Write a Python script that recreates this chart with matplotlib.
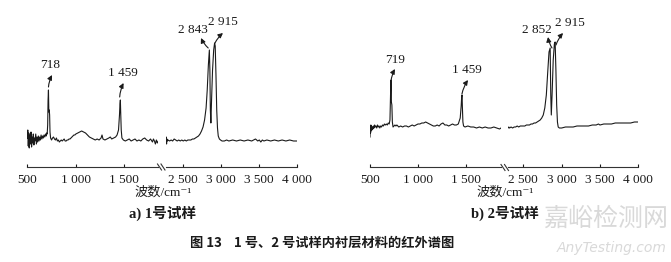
import matplotlib
matplotlib.use("Agg")
import matplotlib.pyplot as plt
from matplotlib.lines import Line2D

plt.rcParams['font.family'] = ['Liberation Serif', 'Noto Sans CJK SC', 'DejaVu Sans']

# sample 1, 500-1850 cm-1
a_left_wn = [500, 505, 510, 515, 520, 526, 532, 538, 544, 550, 556, 562, 568, 574, 580, 587, 594, 600,
             607, 614, 621, 628, 635, 642, 650, 658, 665, 672, 680, 688, 695, 700, 705, 710, 714, 718,
             722, 726, 730, 734, 740, 750, 760, 770, 780, 790, 800, 810, 820, 830, 840, 850, 860, 870,
             880, 890, 900, 910, 920, 930, 940, 950, 960, 970, 980, 990, 1000, 1020, 1040, 1060, 1080,
             1100, 1120, 1140, 1160, 1180, 1200, 1220, 1240, 1260, 1270, 1280, 1300, 1320, 1340, 1355,
             1370, 1390, 1410, 1425, 1440, 1450, 1455, 1459, 1463, 1468, 1475, 1490, 1510, 1530, 1550,
             1570, 1590, 1610, 1630, 1650, 1670, 1690, 1710, 1730, 1750, 1770, 1790, 1800, 1810, 1820,
             1830, 1840, 1850]
a_left_y = [32, 40, 24, 37, 22, 35, 26, 38, 23, 33, 27, 36, 25, 32, 29, 36, 26, 33,
            28, 34, 29, 33, 30, 35, 31, 34, 32, 35, 33, 36, 34, 37, 36, 45, 70, 80,
            58, 60, 55, 38, 32, 30, 32, 33, 31, 30, 32, 29, 30, 28, 29, 30, 29, 30,
            31, 29, 29, 30, 30, 31, 31, 32, 33, 34, 35, 35, 36, 37, 38, 39, 38,
            37, 35, 33, 32, 31, 30, 31, 30, 32, 35, 31, 30, 31, 32, 33,
            31, 32, 33, 35, 40, 55, 66, 70, 56, 40, 32, 30, 29, 30, 31,
            29, 30, 31, 29, 30, 29, 31, 32, 30, 29, 31, 28, 31, 29, 26,
            30, 27, 29]

# sample 1, 2270-4000 cm-1
a_right_wn = [2270, 2275, 2280, 2285, 2292, 2300, 2320, 2340, 2360, 2380, 2400, 2420, 2440, 2460, 2480,
              2500, 2520, 2540, 2560, 2580, 2600, 2620, 2640, 2660, 2680, 2700, 2720, 2740, 2760, 2780,
              2800, 2815, 2830, 2843, 2850, 2856, 2863, 2872, 2885, 2900, 2912, 2920, 2930, 2940, 2950,
              2960, 2975, 2990, 3010, 3040, 3070, 3100, 3150, 3200, 3250, 3300, 3350, 3400, 3450, 3480,
              3500, 3520, 3540, 3560, 3600, 3650, 3700, 3750, 3800, 3850, 3900, 3950, 4000]
a_right_y = [29, 33, 26, 31, 29, 30, 29, 30, 29, 31, 30, 29, 30, 29, 30,
             29, 30, 29, 30, 30, 30, 31, 31, 32, 33, 34, 36, 39, 43, 50,
             62, 80, 105, 120, 100, 60, 47, 70, 100, 120, 127, 124, 95, 60, 42,
             34, 31, 30, 29, 29, 30, 29, 30, 29, 30, 29, 30, 29, 31, 29,
             30, 28, 30, 29, 30, 29, 30, 29, 30, 29, 30, 29, 29]

# sample 2, 500-1865 cm-1
b_left_wn = [500, 503, 506, 509, 512, 516, 520, 525, 530, 536, 542, 548, 555, 562, 570, 578, 586, 594,
             602, 610, 620, 630, 640, 650, 660, 670, 680, 690, 700, 708, 714, 719, 723, 728, 733, 740,
             750, 760, 770, 780, 790, 800, 820, 840, 860, 880, 900, 920, 940, 960, 980, 1000, 1020,
             1040, 1060, 1080, 1100, 1120, 1140, 1160, 1180, 1200, 1220, 1240, 1260, 1280, 1300, 1320,
             1340, 1360, 1380, 1400, 1420, 1440, 1450, 1455, 1459, 1463, 1468, 1475, 1490, 1520, 1550,
             1580, 1610, 1640, 1670, 1700, 1730, 1760, 1790, 1820, 1850, 1865]
b_left_y = [33, 42, 37, 45, 39, 44, 40, 43, 41, 44, 42, 45, 43, 44, 42, 45, 43, 44,
            42, 44, 43, 45, 44, 46, 45, 46, 45, 47, 46, 50, 75, 90, 68, 65, 48, 43,
            44, 45, 44, 45, 44, 43, 44, 43, 44, 44, 43, 44, 45, 44, 45, 46, 46,
            47, 47, 48, 47, 46, 45, 44, 44, 45, 44, 46, 47, 45, 45, 44,
            45, 46, 45, 45, 46, 52, 64, 73, 75, 62, 48, 44, 43, 44, 43,
            43, 42, 43, 42, 43, 42, 42, 43, 42, 41, 42]

# sample 2, 2300-4000 cm-1
b_right_wn = [2300, 2310, 2320, 2340, 2360, 2380, 2400, 2420, 2440, 2460, 2480, 2500, 2520, 2540, 2560,
              2580, 2600, 2620, 2640, 2660, 2680, 2700, 2720, 2740, 2760, 2780, 2800, 2820, 2835, 2850,
              2858, 2865, 2875, 2890, 2905, 2915, 2925, 2935, 2945, 2955, 2970, 3000, 3050, 3100, 3150,
              3200, 3250, 3300, 3350, 3400, 3450, 3480, 3500, 3550, 3600, 3650, 3700, 3750, 3800, 3850,
              3900, 3950, 4000]
b_right_y = [42, 43, 42, 43, 42, 43, 43, 44, 43, 44, 44, 44, 44, 45, 45,
             45, 46, 46, 47, 47, 48, 49, 50, 52, 55, 62, 75, 100, 118, 122,
             75, 55, 75, 110, 126, 128, 100, 65, 48, 43, 42, 42, 43, 43, 43,
             44, 44, 44, 44, 45, 45, 46, 45, 46, 46, 46, 47, 47, 47, 47,
             47, 48, 48]

left_ticks = [500, 1000, 1500]
right_ticks = [2500, 3000, 3500, 4000]

# peak labels: (text, arrow tail wn, tail height, text pos, arrow head pos, segment)
a_peaks = [("718", 718, 83, (734, 105), (755, 95), 0),
           ("1 459", 1452, 73, (1488, 97), (1492, 87), 0),
           ("2 843", 2828, 122, (2628, 140), (2733, 132), 1),
           ("2 915", 2917, 127, (3022, 148), (3022, 137), 1)]
b_peaks = [("719", 719, 89, (760, 110), (760, 101), 0),
           ("1 459", 1458, 76, (1510, 100), (1521, 90), 0),
           ("2 852", 2874, 122, (2679, 140), (2822, 133), 1),
           ("2 915", 2926, 125, (3109, 147), (3018, 137), 1)]

W, H = 671, 262
fig = plt.figure(figsize=(6.71, 2.62), dpi=100)
line_c = '#1a1a1a'


def make_ax(x0, x1, yaxis, xlim, ticks, xs, ys):
    ax = fig.add_axes([x0 / W, 1 - yaxis / H, (x1 - x0) / W, (yaxis - 10) / H])
    ax.plot(xs, ys, color=line_c, lw=0.8)
    ax.set_xlim(xlim)
    ax.set_ylim(170 - yaxis, 160)
    for s in ['left', 'right', 'top']:
        ax.spines[s].set_visible(False)
    ax.spines['bottom'].set_color('#333333')
    ax.spines['bottom'].set_linewidth(0.8)
    ax.set_yticks([])
    ax.set_xticks(ticks)
    ax.set_xticklabels(["{:,}".format(t).replace(",", " ") for t in ticks])
    ax.tick_params(axis='x', direction='in', length=2.5, width=0.8, pad=5,
                   labelsize=9.5, colors='#1a1a1a')
    ax.patch.set_alpha(0)
    return ax


def panel(axes, peaks, xlab_x, ylab, sub):
    for txt, px, py, tpos, hpos, k in peaks:
        ax = axes[k]
        ax.text(tpos[0], tpos[1], txt, fontsize=9.5, ha='center', va='center', color=line_c)
        ax.annotate('', xy=hpos, xytext=(px, py),
                    arrowprops=dict(arrowstyle='-|>', lw=0.8, color=line_c,
                                    mutation_scale=7, shrinkA=0, shrinkB=0,
                                    connectionstyle='arc3,rad=-0.1'),
                    annotation_clip=False)
    fig.text(xlab_x / W, 1 - ylab / H, u'波数/cm\u207b\u00b9', fontsize=9.5, ha='center',
             va='center', color=line_c)
    fig.text(xlab_x / W, 1 - 213 / H, sub, fontsize=10.5, ha='center', va='center',
             fontweight='bold', color=line_c)


def break_marks(x, y):
    for dx in [0, 3.5]:
        fig.add_artist(Line2D([(x + dx - 2) / W, (x + dx + 2) / W],
                              [1 - (y - 3) / H, 1 - (y + 3) / H],
                              color='#333333', lw=0.8))


# panel a
a1 = make_ax(27.3, 158.3, 166.7, (500, 1850), left_ticks, a_left_wn, a_left_y)
a2 = make_ax(165.8, 297.3, 166.7, (2270, 4000), right_ticks, a_right_wn, a_right_y)
panel([a1, a2], a_peaks, 163, 192, u'a) 1号试样')
break_marks(159.5, 167)

# panel b
b1 = make_ax(370, 501, 167.3, (500, 1865), left_ticks, b_left_wn, b_left_y)
b2 = make_ax(508, 638.3, 167.3, (2300, 4000), right_ticks, b_right_wn, b_right_y)
panel([b1, b2], b_peaks, 505, 192, u'b) 2号试样')
break_marks(503, 167.5)

fig.text(322 / W, 1 - 243 / H, u'图 13    1 号、2 号试样内衬层材料的红外谱图', fontsize=9.5,
         ha='center', va='center', fontweight='bold', color=line_c,
         family=['Noto Sans CJK SC', 'DejaVu Sans'])

# watermark
fig.text(606 / W, 1 - 219 / H, u'嘉峪检测网', fontsize=18, ha='center', va='center',
         color='#d9d9d9', family=['Noto Sans CJK SC', 'DejaVu Sans'])
fig.text(612 / W, 1 - 248 / H, 'AnyTesting.com', fontsize=10, ha='center', va='center',
         color='#d9d9d9', style='italic', family=['DejaVu Sans'])

plt.savefig("out.png", dpi=100)
plt.close()
